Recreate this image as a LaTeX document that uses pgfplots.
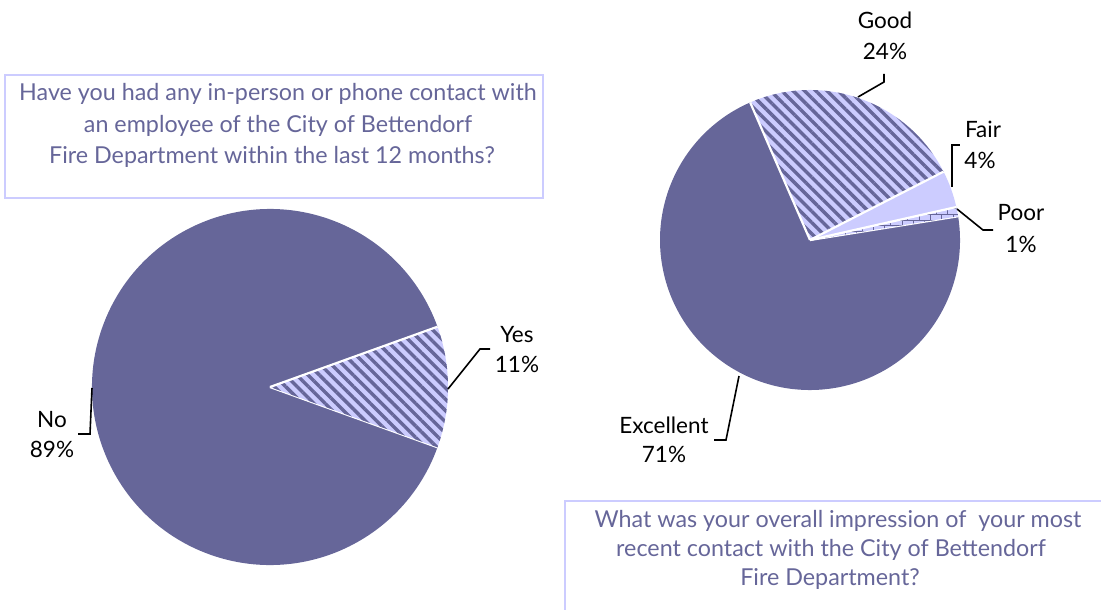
\documentclass[border=0pt]{standalone}
\usepackage{fontspec}
\setmainfont{Lato}
\usepackage{pgfplots}
\pgfplotsset{compat=1.18}
\usetikzlibrary{patterns,patterns.meta}
\definecolor{pdark}{HTML}{666699}
\definecolor{plight}{HTML}{CCCCFF}
% slice: cx, cy, r, start angle, percent, fill style (drawn clockwise)
\newcommand{\slice}[6]{%
  \fill[#6] (axis cs:#1,#2) -- ++(#4:#3pt) arc[start angle=#4, end angle=#4-3.6*#5, radius=#3pt] -- cycle;
  \draw[white, line width=2.2pt, line join=round] (axis cs:#1,#2) -- ++(#4:#3pt);}
\tikzset{
  hatched/.style={fill=plight, postaction={pattern={Lines[angle=-45, distance=8pt, line width=3.4pt]}, pattern color=pdark}},
  solidd/.style={fill=pdark},
  solidl/.style={fill=plight},
  bricked/.style={fill=plight, postaction={pattern=bricks, pattern color=pdark}},
  lbl/.style={font=\fontsize{22.5}{26}\selectfont, anchor=base, text=black, inner sep=0pt},
  ttl/.style={font=\fontsize{23.3}{26}\selectfont, anchor=base, text=pdark, inner sep=0pt},
  lead/.style={black, line width=1.6pt},
}
\begin{document}
\begin{tikzpicture}
\useasboundingbox (0,0) rectangle (1101pt,610pt);
\begin{axis}[at={(0,0)}, anchor=south west, scale only axis, width=1101pt, height=610pt,
  xmin=0, xmax=1101, ymin=0, ymax=610, y dir=reverse, hide axis, clip=false]
\addplot[draw=none] coordinates {(0,0)};
% left pie: No 89, Yes 11
\slice{270}{387}{178}{-19.8}{89}{solidd}
\slice{270}{387}{178}{19.8}{11}{hatched}
% right pie: Excellent 71, Good 24, Fair 4, Poor 1 (starts: 113.5, 27.1, 12.7, 9.1)
\slice{810}{240}{150}{9.1}{71}{solidd}
\slice{810}{240}{150}{113.5}{24}{hatched}
\slice{810}{240}{150}{27.1}{4}{solidl}
\slice{810}{240}{150}{12.7}{1}{bricked}
% leaders
\draw[lead] (axis cs:448,389) -- (axis cs:480,349) -- (axis cs:490,349);
\draw[lead] (axis cs:92,388) -- (axis cs:90,434) -- (axis cs:78,434);
\draw[lead] (axis cs:858,97) -- (axis cs:884,82) -- (axis cs:884,74);
\draw[lead] (axis cs:952,187) -- (axis cs:952,145) -- (axis cs:960,145);
\draw[lead] (axis cs:957,209) -- (axis cs:983,230) -- (axis cs:993,230);
\draw[lead] (axis cs:739,376) -- (axis cs:726,440) -- (axis cs:714,440);
% labels
\node[lbl] at (axis cs:517,342) {Yes};
\node[lbl] at (axis cs:517,372) {11\%};
\node[lbl] at (axis cs:52,427) {No};
\node[lbl] at (axis cs:52,457) {89\%};
\node[lbl] at (axis cs:885,29) {Good};
\node[lbl] at (axis cs:885,60) {24\%};
\node[lbl] at (axis cs:983,137) {Fair};
\node[lbl] at (axis cs:980,168) {4\%};
\node[lbl] at (axis cs:1021,220) {Poor};
\node[lbl] at (axis cs:1021,252) {1\%};
\node[lbl] at (axis cs:664,433) {Excellent};
\node[lbl] at (axis cs:664,462) {71\%};
% title boxes
\draw[plight, line width=2pt] (axis cs:5,75) rectangle (axis cs:543,198);
\node[ttl] at (axis cs:278,100) {Have you had any in-person or phone contact with};
\node[ttl] at (axis cs:278,132) {an employee of the City of Bettendorf};
\node[ttl] at (axis cs:272,163) {Fire Department within the last 12 months?};
\draw[plight, line width=2pt] (axis cs:565,501) rectangle (axis cs:1120,630);
\node[ttl] at (axis cs:838,527) {What was your overall impression of\ \ your most};
\node[ttl] at (axis cs:831,556) {recent contact with the City of Bettendorf};
\node[ttl] at (axis cs:830,585) {Fire Department?};
\end{axis}
\end{tikzpicture}
\end{document}
